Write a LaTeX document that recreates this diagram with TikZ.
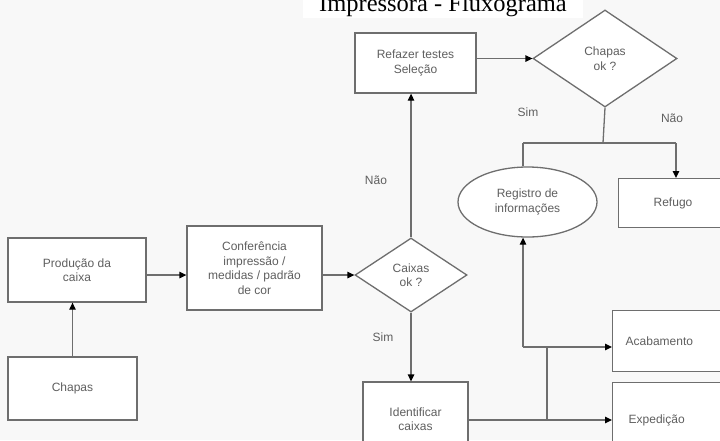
\documentclass[tikz,border=0pt]{standalone}
\usepackage{fontspec}
\setmainfont{Liberation Serif}
\newfontfamily\boxfont{Liberation Sans}
\usetikzlibrary{arrows.meta,shapes.geometric}
\definecolor{bgcol}{RGB}{248,248,248}
\definecolor{linecol}{RGB}{110,110,110}
\definecolor{txtcol}{RGB}{95,95,95}
\tikzset{
  boxline/.style={draw=linecol, line width=1.3pt},
  stepbox/.style={boxline, rectangle, fill=white, inner sep=0pt, align=center,
     font=\boxfont\fontsize{12}{14.5}\selectfont, text=txtcol},
  decbox/.style={boxline, diamond, fill=white, inner sep=0pt, align=center,
     font=\boxfont\fontsize{12}{14.5}\selectfont, text=txtcol},
  ovalbox/.style={boxline, ellipse, fill=white, inner sep=0pt, align=center,
     font=\boxfont\fontsize{12}{14.5}\selectfont, text=txtcol},
  sidebox/.style={boxline, rectangle, fill=white, inner ysep=0pt, align=left,
     font=\boxfont\fontsize{12}{14.5}\selectfont, text=txtcol, anchor=north west},
  conn/.style={draw=linecol, line width=1.3pt},
  arr/.style={conn, -{Triangle[length=7pt,width=6.5pt,fill=black,color=black]}},
  lab/.style={font=\boxfont\fontsize{12}{14}\selectfont, text=txtcol}
}
\begin{document}
\begin{tikzpicture}[x=1pt,y=-1pt]
\useasboundingbox (0,0) rectangle (720,440);
\fill[bgcol] (0,0) rectangle (720,440);
\fill[white] (303,0) rectangle (583,18);
\node[anchor=base, font=\fontsize{24.5}{26}\selectfont] (title) at (443,11) {Impressora - Fluxograma};

% nodes
\node[stepbox, minimum width=138, minimum height=64] (prod) at (77,270) {Produção da\\caixa};
\node[stepbox, minimum width=129, minimum height=63] (chapas) at (72.5,388.5) {Chapas};
\node[stepbox, minimum width=135, minimum height=84] (conf) at (254.5,268) {Conferência\\impressão /\\medidas / padrão\\de cor};
\node[decbox, minimum width=112, minimum height=74] (caixas) at (411,275) {Caixas\\ok ?};
\node[stepbox, minimum width=121, minimum height=60] (refazer) at (415.5,63) {Refazer testes\\Seleção};
\node[decbox, minimum width=144, minimum height=97] (chapasok) at (605,58.5) {Chapas\\ok ?};
\node[ovalbox, minimum width=139, minimum height=70] (registro) at (527.5,202) {Registro de\\informações};
\node[sidebox, minimum height=49, inner xsep=35, text width=60] (refugo) at (618,178) {Refugo};
\node[sidebox, minimum height=61, inner xsep=13, text width=110] (acab) at (612,310) {Acabamento};
\node[sidebox, minimum height=76, inner xsep=16, text width=110] (exped) at (612,382) {Expedição};
\node[stepbox, minimum width=105, minimum height=74] (ident) at (415.5,419) {Identificar\\caixas};

% junction coordinates
\coordinate (jtop) at (603,143);
\coordinate (jl) at (523,143);
\coordinate (jr) at (676,143);
\coordinate (jmain) at (547,420);
\coordinate (jmid) at (547,347);
\coordinate (jreg) at (523,347);
\coordinate (flow) at (0,275);

% connectors
\draw[arr] (chapas.north) -- (chapas.north |- prod.south);
\draw[arr] (prod.east |- flow) -- (conf.west |- flow);
\draw[arr] (conf.east |- flow) -- (caixas.west);
\draw[arr] (caixas.north) -- (caixas.north |- refazer.south);
\draw[arr] (caixas.south) -- (caixas.south |- ident.north);
\draw[arr] (refazer.east |- chapasok.west) -- (chapasok.west);
\draw[conn] (chapasok.south) -- (jtop);
\draw[conn] (jl) -- (jr);
\draw[conn] (jl) -- (jl |- registro.north);
\draw[arr] (jr) -- (jr |- refugo.north);
\draw[arr] (ident.east |- jmain) -- (exped.west |- jmain);
\draw[conn] (jmain) -- (jmid);
\draw[arr] (jreg) -- (acab.west |- jreg);
\draw[arr] (jreg) -- (jreg |- registro.south);

% labels
\node[lab] (nao1) at (376,180) {Não};
\node[lab] (sim1) at (383,337) {Sim};
\node[lab] (sim2) at (528,112) {Sim};
\node[lab] (nao2) at (672,118) {Não};
\end{tikzpicture}
\end{document}
